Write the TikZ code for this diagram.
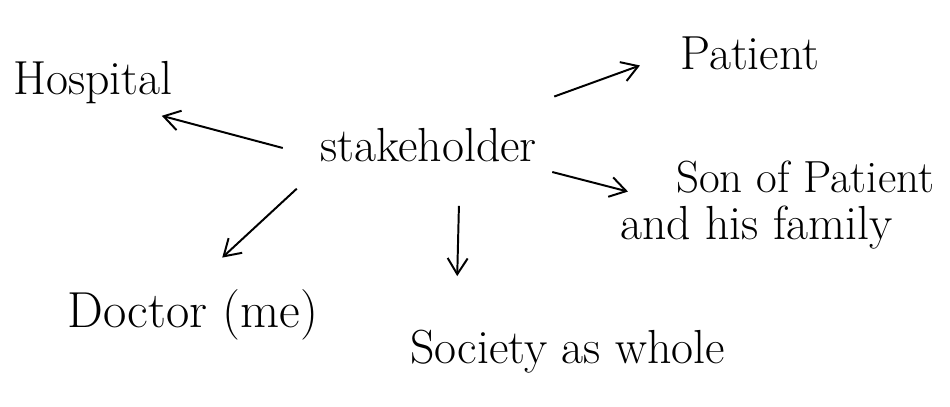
\documentclass[tikz,border=0pt]{standalone}
\usepackage{tikz}
\usetikzlibrary{arrows.meta}

\begin{document}
\begin{tikzpicture}[x=0.025cm, y=-0.025cm, font=\fontsize{34}{40}\selectfont]
            \useasboundingbox (0,0) rectangle (950,407);
            \node[anchor=base west, inner sep=0pt] (stake) at (320,162) {stakeholder};
            \node[anchor=base west, inner sep=0pt] (hospital) at (13,95) {Hospital};
            \node[anchor=base west, inner sep=0pt] (patient) at (680,70) {Patient};
            \node[anchor=base west, inner sep=0pt, font=\fontsize{32}{38}\selectfont] (son1) at (676,193) {Son of Patient};
            \node[anchor=base west, inner sep=0pt] (son2) at (620,240) {and his family};
            \node[anchor=base west, inner sep=0pt, font=\fontsize{36}{42}\selectfont] (doctor) at (67,327) {Doctor (me)};
            \node[anchor=base west, inner sep=0pt] (society) at (410,363) {Society as whole};
            \draw[-{Straight Barb[length=4mm,width=5mm]}, line width=1.4pt] ([xshift=-0.93cm,yshift=-0.06cm]stake.west) -- ([xshift=-0.28cm,yshift=-0.28cm]hospital.south east);
            \draw[-{Straight Barb[length=4mm,width=5mm]}, line width=1.4pt] ([xshift=0.43cm,yshift=0.8cm]stake.north east) -- ([xshift=-1cm,yshift=-0.29cm]patient.west);
            \draw[-{Straight Barb[length=4mm,width=5mm]}, line width=1.4pt] ([xshift=0.38cm,yshift=-0.66cm]stake.east) -- ([xshift=-1.2cm,yshift=-0.35cm]son1.west);
            \draw[-{Straight Barb[length=4mm,width=5mm]}, line width=1.4pt] ([xshift=-0.58cm,yshift=-0.65cm]stake.south west) -- ([xshift=0.74cm,yshift=0.78cm]doctor.north);
            \draw[-{Straight Barb[length=4mm,width=5mm]}, line width=1.4pt] ([xshift=0.76cm,yshift=-1.08cm]stake.south) -- ([xshift=1.18cm,yshift=1.33cm]society.north west);
        \end{tikzpicture}
\end{document}
